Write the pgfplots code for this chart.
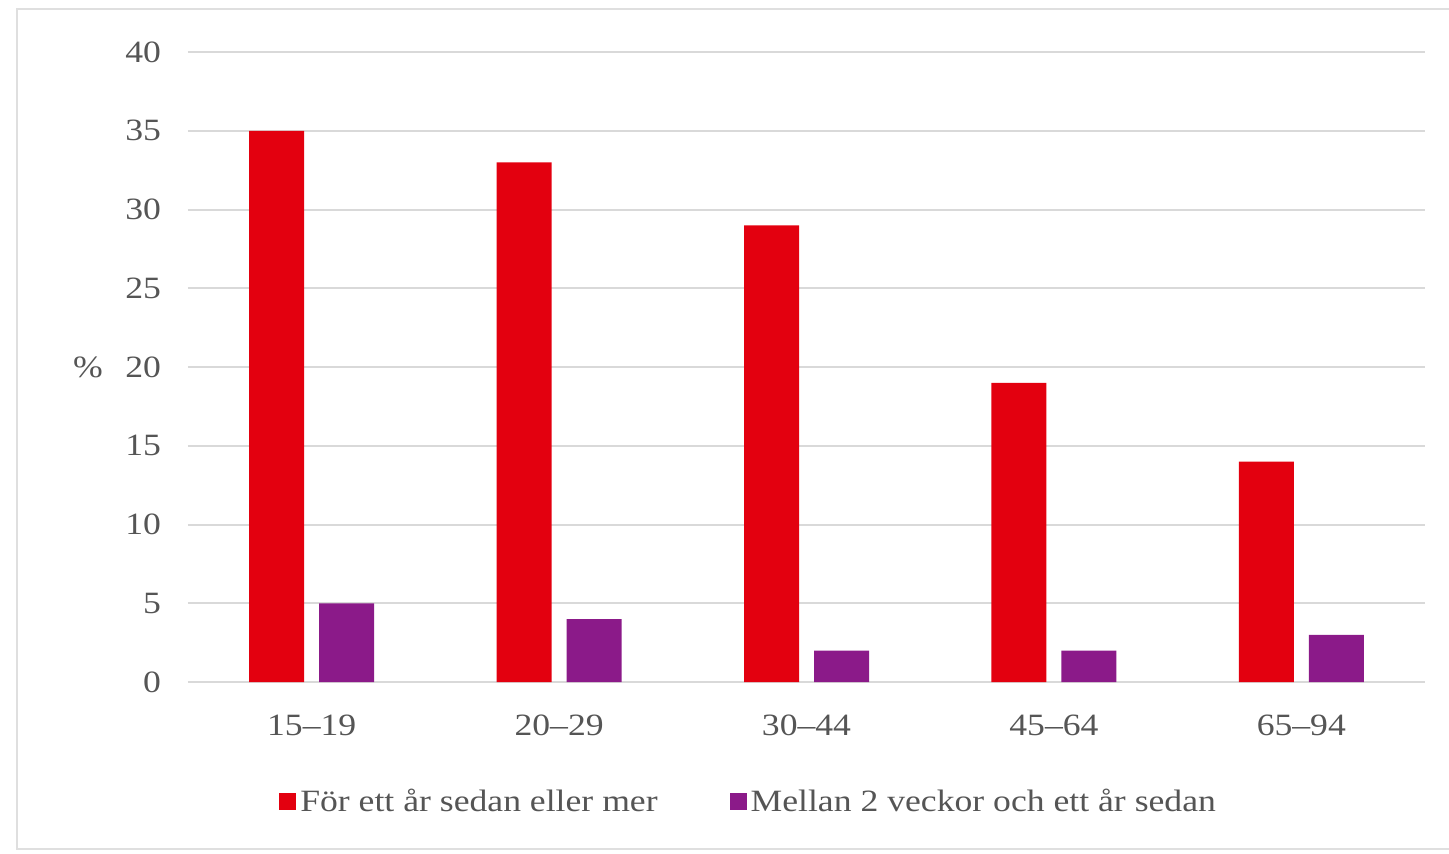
\documentclass[border=0pt]{standalone}
\usepackage{fontspec}
\setmainfont{Liberation Serif}[FakeStretch=1.15]
\usepackage{pgfplots}
\pgfplotsset{compat=1.18}
\definecolor{barred}{RGB}{227,0,15}
\definecolor{barpurple}{RGB}{139,26,137}
\definecolor{gridgray}{RGB}{217,217,217}
\definecolor{txtgray}{RGB}{85,85,85}

\begin{document}
\begin{tikzpicture}
\begin{axis}[
  scale only axis, width=618.5pt, height=315pt,
  ymin=0, ymax=40, ytick={0,5,...,40},
  xmin=-0.5, xmax=4.5, xtick=data,
  xticklabels={15--19,20--29,30--44,45--64,65--94},
  ybar=7.5pt, bar width=27.5pt,
  ymajorgrids, grid style={gridgray, line width=1pt},
  axis line style={draw=none},
  major tick length=0pt,
  /pgf/number format/assume math mode=true,
  tick label style={font=\fontsize{15.5}{18}\selectfont, text=txtgray},
  yticklabel style={xshift=-10pt},
  xticklabel style={yshift=-13pt},
  ylabel={\%},
  every axis y label/.style={at={(rel axis cs:0,0.5)}, anchor=center,
    xshift=-50pt, font=\fontsize{15.5}{18}\selectfont, text=txtgray},
  legend style={at={(rel axis cs:0.454,-0.19)}, anchor=center, draw=none,
    legend columns=2, font=\fontsize{15.5}{19}\selectfont, text=txtgray,
    /tikz/every even column/.append style={column sep=34pt}},
  legend image code/.code={\fill[#1,draw=none] (0pt,-4.25pt) rectangle (8.5pt,4.25pt);},
]
\addplot[fill=barred, draw=none] coordinates {(0,35) (1,33) (2,29) (3,19) (4,14)};
\addplot[fill=barpurple, draw=none] coordinates {(0,5) (1,4) (2,2) (3,2) (4,3)};
\legend{För ett år sedan eller mer, Mellan 2 veckor och ett år sedan}
\end{axis}
\pgfresetboundingbox
\path[use as bounding box] (-94pt,-85.5pt) rectangle (630.5pt,341pt);
\draw[gray!25, line width=1pt] (-85.5pt,-83.5pt) rectangle (640pt,336.5pt);
\end{tikzpicture}
\end{document}
